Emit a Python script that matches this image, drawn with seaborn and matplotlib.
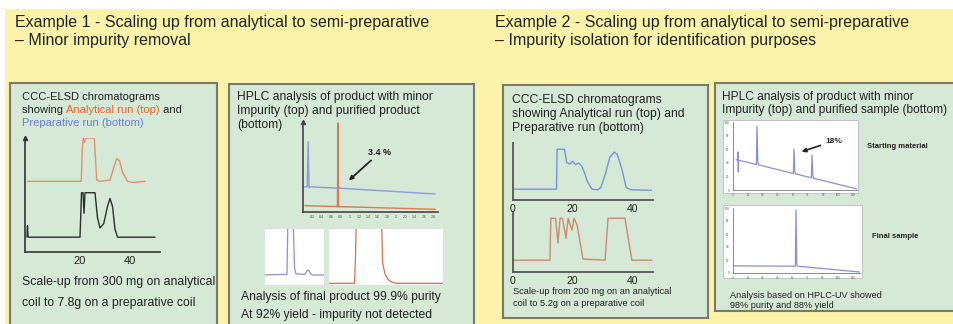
import numpy as np
import pandas as pd
import matplotlib.pyplot as plt
import seaborn as sns
from matplotlib.patches import Rectangle

sns.set_style("white")
plt.rcParams['font.family'] = ['Liberation Sans', 'DejaVu Sans']

W, H = 954, 324

# ---- data ----
# example 1, CCC-ELSD (time in min, signal in arbitrary units)
ex1_ana_time = [-0.8, 20.5, 20.9, 21.3, 21.8, 22.3, 25.7, 26.7, 28.0, 32.0, 33.5, 34.7, 35.8, 37.0, 39.0, 41.0, 46.0]
ex1_ana_signal = [62, 62, 90, 100, 96, 100, 100, 63, 62, 63, 74, 82, 80, 70, 62, 61, 62]
ex1_prep_time = [-1.2, -1.0, -0.8, -0.5, 20.0, 20.6, 21.2, 21.6, 22.0, 22.4, 26.0, 27.0, 28.0, 29.5, 31.0, 32.0, 33.0, 34.0, 35.0, 50.0]
ex1_prep_signal = [13, 23, 14, 13, 13, 52, 52, 34, 52, 52, 52, 30, 21, 25, 40, 47, 40, 20, 13, 13]
ex1_ticks = [20, 40]

# example 1, HPLC (impure = blue, purified = orange)
ex1_hplc_time_impure = [0.0, 0.45, 0.55, 0.65, 0.8, 3.7, 3.8, 3.9, 14.2]
ex1_hplc_signal_impure = [28, 28, 78, 27, 28, 26.5, 29, 26.5, 20]
ex1_hplc_time_pure = [0.2, 3.7, 3.76, 3.82, 14.2]
ex1_hplc_signal_pure = [7, 6, 99, 6, 3]
ex1_hplc_ticks = list(range(1, 15))
ex1_hplc_ticklabels = ['0.2', '0.4', '0.6', '0.8', '1', '1.2', '1.4', '1.6', '1.8', '2', '2.2', '2.4', '2.6', '2.8']

# example 1, final product zooms
ex1_zoom_a_x = [0, 22, 23, 28, 29.5, 31, 40, 42, 43.5, 45, 47, 59]
ex1_zoom_a_y = [18, 19, 130, 130, 30, 20, 19, 25, 27, 22, 18, 18]
ex1_zoom_b_x = [0, 25.5, 26.5, 27.5, 52.5, 53.5, 56, 59, 63, 67, 114]
ex1_zoom_b_y = [3, 3, 50, 130, 130, 40, 20, 10, 5, 3, 3]

# example 2, CCC-ELSD
ex2_ana_time = [0.5, 14.6, 14.8, 17.3, 18.0, 19.0, 20.0, 21.0, 22.0, 23.0, 24.0, 25.0, 26.5, 28.5, 29.5, 31.0, 32.5, 34.0, 35.0, 36.5, 38.0, 39.5, 46.5]
ex2_ana_signal = [19, 19, 89, 89, 66, 63, 68, 62, 65, 60, 48, 32, 19, 18, 22, 45, 75, 84, 80, 55, 22, 18, 17]
ex2_prep_time = [0, 12.4, 12.7, 14.3, 15.1, 15.8, 16.6, 17.8, 18.5, 19.8, 20.5, 21.5, 23.5, 30.9, 31.9, 37.6, 39.9, 46.6]
ex2_prep_signal = [20, 20, 91, 91, 49, 91, 91, 57, 91, 71, 91, 80, 22, 20, 91, 91, 20, 20]
ex2_ticks = [0, 20, 40]

# example 2, HPLC
ex2_start_time = [3, 4.6, 5, 5.3, 5.6, 6, 23.4, 24, 24.8, 25.6, 60.4, 61, 61.8, 62.6, 78.4, 79, 79.8, 80.6, 124]
ex2_start_signal = [44.7, 44.1, 56, 26.5, 43.9, 43.7, 37.5, 94, 42, 37, 24.2, 60, 27, 23.6, 18, 51.5, 21, 17.2, 1.5]
ex2_final_time = [0, 62.4, 63, 63.8, 64.6, 127]
ex2_final_signal = [11, 10.5, 97, 14, 10.5, 1.5]

fig = plt.figure(figsize=(W / 100, H / 100), dpi=100)
fig.patch.set_facecolor('#FCF3AB')


def fig_rect(x0, y0, x1, y1, **kw):
    fig.patches.append(Rectangle((x0 / W, 1 - y1 / H), (x1 - x0) / W, (y1 - y0) / H,
                                 transform=fig.transFigure, figure=fig, zorder=-5, **kw))


def px_axes(x0, y0, x1, y1):
    ax = fig.add_axes([x0 / W, 1 - y1 / H, (x1 - x0) / W, (y1 - y0) / H])
    ax.set_facecolor('none')
    return ax


def ftext(x, y, s, **kw):
    kw.setdefault('va', 'center')
    return fig.text(x / W, 1 - y / H, s, **kw)


def colored_line(x, y, parts, size):
    r = fig.canvas.get_renderer()
    for s, c in parts:
        t = ftext(x, y, s, color=c, fontsize=size)
        x += t.get_window_extent(renderer=r).width


def trace(ax, xs, ys, color, lw=1.0):
    d = pd.DataFrame({'t': xs, 's': ys})
    sns.lineplot(data=d, x='t', y='s', ax=ax, color=color, lw=lw, estimator=None, sort=False)
    ax.set_xlabel('')
    ax.set_ylabel('')


def axis_arrow(ax, color):
    ax.plot([0], [1], marker='^', ms=3, color=color, transform=ax.transAxes, clip_on=False)


# white strips at top/left
fig_rect(0, 0, W, 9, facecolor='white', edgecolor='none')
fig_rect(0, 0, 5, H, facecolor='white', edgecolor='none')

# titles
title_kw = dict(fontsize=11.5, color='#222222')
ftext(15, 22, 'Example 1 - Scaling up from analytical to semi-preparative', **title_kw)
ftext(15, 41, '\u2013 Minor impurity removal', **title_kw)
ftext(495, 22, 'Example 2 - Scaling up from analytical to semi-preparative', **title_kw)
ftext(495, 41, '\u2013 Impurity isolation for identification purposes', **title_kw)

# panels
panel_kw = dict(facecolor='#D5E9D6', edgecolor='#7A7A6A', lw=1.5)
fig_rect(10, 83, 217, 330, **panel_kw)
fig_rect(229, 84, 474, 330, **panel_kw)
fig_rect(503, 85, 708, 318, **panel_kw)
fig_rect(715, 83, 960, 311, **panel_kw)

# ---- panel 1 ----
ftext(22, 97, 'CCC-ELSD chromatograms', fontsize=8, color='#222222')
colored_line(22, 110, [('showing ', '#222222'), ('Analytical run (top)', '#E8642E'), (' and', '#222222')], 8)
ftext(22, 123, 'Preparative run (bottom)', fontsize=8, color='#6C7DD4')

ax1 = px_axes(25, 138, 160, 252)
trace(ax1, ex1_ana_time, ex1_ana_signal, '#E3906E')
trace(ax1, ex1_prep_time, ex1_prep_signal, '#2E2E2E')
ax1.set_xlim(-2, 52)
ax1.set_ylim(0, 100)
sns.despine(ax=ax1)
for sp in ('left', 'bottom'):
    ax1.spines[sp].set_color('#333333')
    ax1.spines[sp].set_linewidth(1.2)
ax1.set_xticks(ex1_ticks)
ax1.set_yticks([])
ax1.tick_params(axis='x', length=0, labelsize=8, pad=3, colors='#222222')
axis_arrow(ax1, '#333333')

ftext(22, 282, 'Scale-up from 300 mg on analytical', fontsize=8.8, color='#222222')
ftext(22, 303, 'coil to 7.8g on a preparative coil', fontsize=8.8, color='#222222')

# ---- panel 2 ----
ftext(237, 97, 'HPLC analysis of product with minor', fontsize=8.7, color='#222222')
ftext(237, 111, 'Impurity (top) and purified product', fontsize=8.7, color='#222222')
ftext(237, 125, '(bottom)', fontsize=8.7, color='#222222')

ax2 = px_axes(303, 122, 438, 212)
trace(ax2, ex1_hplc_time_impure, ex1_hplc_signal_impure, '#8D9BDA')
trace(ax2, ex1_hplc_time_pure, ex1_hplc_signal_pure, '#DB7A52')
ax2.set_xlim(0, 14.5)
ax2.set_ylim(0, 100)
sns.despine(ax=ax2)
for sp in ('left', 'bottom'):
    ax2.spines[sp].set_color('#444444')
    ax2.spines[sp].set_linewidth(1.2)
ax2.set_yticks([])
ax2.set_xticks(ex1_hplc_ticks)
ax2.set_xticklabels(ex1_hplc_ticklabels)
ax2.tick_params(axis='x', length=1.5, width=0.5, labelsize=2.5, pad=1, colors='#444444')
axis_arrow(ax2, '#444444')
ax2.annotate('3.4 %', xy=(4.7, 33), xytext=(7.0, 66), fontsize=6.5, fontweight='bold', color='#222222',
             ha='left', va='center',
             arrowprops=dict(arrowstyle='-|>', color='#222222', lw=1.3, mutation_scale=6, shrinkA=0))

fig_rect(265, 229, 324, 285, facecolor='white', edgecolor='none')
fig_rect(329, 229, 443, 285, facecolor='white', edgecolor='none')
ax2a = px_axes(265, 229, 324, 285)
trace(ax2a, ex1_zoom_a_x, ex1_zoom_a_y, '#9090D0', lw=0.9)
ax2a.set_xlim(0, 59)
ax2a.set_ylim(0, 100)
ax2a.axis('off')
ax2b = px_axes(329, 229, 443, 285)
trace(ax2b, ex1_zoom_b_x, ex1_zoom_b_y, '#D8704C', lw=0.9)
ax2b.set_xlim(0, 114)
ax2b.set_ylim(0, 100)
ax2b.axis('off')

ftext(241, 297, 'Analysis of final product 99.9% purity', fontsize=8.7, color='#222222')
ftext(241, 315, 'At 92% yield - impurity not detected', fontsize=8.7, color='#222222')

# ---- panel 3 ----
ftext(512, 100, 'CCC-ELSD chromatograms', fontsize=8.7, color='#222222')
ftext(512, 114, 'showing Analytical run (top) and', fontsize=8.7, color='#222222')
ftext(512, 128, 'Preparative run (bottom)', fontsize=8.7, color='#222222')

for box, xs, ys, col in [((513, 143, 653, 200), ex2_ana_time, ex2_ana_signal, '#8190D6'),
                         ((513, 213, 653, 272), ex2_prep_time, ex2_prep_signal, '#CC8C72')]:
    ax = px_axes(*box)
    trace(ax, xs, ys, col)
    ax.set_xlim(0, 47)
    ax.set_ylim(0, 100)
    sns.despine(ax=ax)
    for sp in ('left', 'bottom'):
        ax.spines[sp].set_color('#555555')
        ax.spines[sp].set_linewidth(1.3)
    ax.set_yticks([])
    ax.set_xticks(ex2_ticks)
    ax.tick_params(axis='x', length=0, labelsize=7.5, pad=3, colors='#222222')

ftext(513, 292, 'Scale-up from 200 mg on an analytical', fontsize=6.7, color='#222222')
ftext(513, 303, 'coil to 5.2g on a preparative coil', fontsize=6.7, color='#222222')

# ---- panel 4 ----
ftext(722, 97, 'HPLC analysis of product with minor', fontsize=8.6, color='#222222')
ftext(722, 110, 'Impurity (top) and purified sample (bottom)', fontsize=8.6, color='#222222')

fig_rect(723, 120, 858, 193, facecolor='white', edgecolor='#BBBBBB', lw=0.6)
fig_rect(723, 205, 862, 278, facecolor='white', edgecolor='#BBBBBB', lw=0.6)

for box, xs, ys, xmax in [((733, 122, 857, 190), ex2_start_time, ex2_start_signal, 124),
                          ((733, 208, 860, 273), ex2_final_time, ex2_final_signal, 127)]:
    ax = px_axes(*box)
    trace(ax, xs, ys, '#8A90D2', lw=0.9)
    ax.set_xlim(0, xmax)
    ax.set_ylim(0, 100)
    for sp in ('top', 'right'):
        ax.spines[sp].set_visible(False)
    for sp in ('left', 'bottom'):
        ax.spines[sp].set_color('#777777')
        ax.spines[sp].set_linewidth(0.6)
    ax.set_xticks(np.arange(0, xmax + 1, 15))
    ax.set_yticks(np.arange(0, 101, 20))
    ax.tick_params(length=1.5, width=0.5, labelsize=2.2, pad=1, colors='#555555')
    if xmax == 124:
        ax.annotate('18%', xy=(66, 55), xytext=(92, 72), fontsize=6, fontweight='bold', color='#222222',
                    ha='left', va='center',
                    arrowprops=dict(arrowstyle='-|>', color='#222222', lw=1.2, mutation_scale=6, shrinkA=1))

ftext(867, 146, 'Starting material', fontsize=5.5, fontweight='bold', color='#222222')
ftext(872, 237, 'Final sample', fontsize=5.5, fontweight='bold', color='#222222')
ftext(730, 295, 'Analysis based on HPLC-UV showed', fontsize=6.6, color='#222222')
ftext(730, 305, '98% purity and 88% yield', fontsize=6.6, color='#222222')

fig.savefig('out.png', dpi=100, facecolor=fig.get_facecolor())
